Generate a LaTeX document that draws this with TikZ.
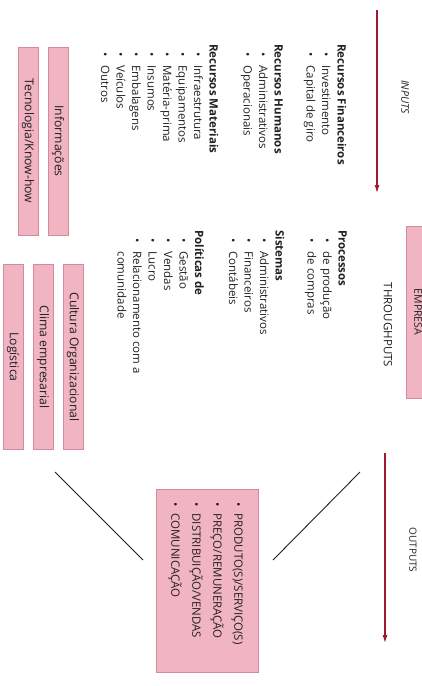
\documentclass[tikz,border=0pt]{standalone}
\usepackage{fontspec}
\setmainfont{Open Sans}
\usetikzlibrary{arrows.meta}
\definecolor{rosa}{RGB}{241,180,194}
\definecolor{rosaborda}{RGB}{216,136,156}
\definecolor{vinho}{RGB}{158,26,46}
\definecolor{texto}{RGB}{35,31,32}
\newcommand{\itm}[1]{\hspace*{8pt}\textbullet\hspace{9pt}#1}
\newcommand{\cont}[1]{\hspace*{8pt}\phantom{\textbullet}\hspace{9pt}#1}

\begin{document}
\begin{tikzpicture}[x=1pt,y=-1pt,
  lista/.style={rotate=-90,anchor=north west,inner sep=0pt,align=left,text=texto,font=\fontsize{11.5}{15.5}\selectfont},
  faixa/.style={rotate=-90,fill=rosa,draw=rosaborda,line width=0.3pt,minimum height=20pt,inner sep=0pt,text=texto,font=\fontsize{12.2}{13}\selectfont},
  fluxo/.style={draw=vinho,line width=1.1pt,-{Latex[length=8pt,width=5pt]}},
  rotulo/.style={rotate=-90,inner sep=0pt,text=texto,font=\fontsize{10.5}{12}\selectfont\itshape}]
\useasboundingbox (0,0) rectangle (422,686);

% inputs
\coordinate (in-a) at (377,10);
\coordinate (in-b) at (377,193);
\draw[fluxo] (in-a) -- (in-b);
\node[rotulo] (inputs) at (405,97) {INPUTS};
\node[lista] (recursos) at (346.5,44) {\textbf{Recursos Financeiros}\\ \itm{Investimento}\\ \itm{Capital de giro}\\[16.5pt]
  \textbf{Recursos Humanos}\\ \itm{Administrativos}\\ \itm{Operacionais}\\[18.5pt]
  \textbf{Recursos Materiais}\\ \itm{Infraestrutura}\\ \itm{Equipamentos}\\ \itm{Matéria-prima}\\ \itm{Insumos}\\ \itm{Embalagens}\\ \itm{Veículos}\\ \itm{Outros}};
\node[faixa,minimum width=188pt] (informacoes) at (58,141) {Informações};
\node[faixa,minimum width=188pt] (tecnologia) at (28,141) {Tecnologia/Know-how};

% throughputs
\node[faixa,minimum width=172pt,minimum height=24pt,font=\fontsize{10.5}{12}\selectfont] (empresa) at (418,312) {EMPRESA};
\node[rotulo,font=\fontsize{11.5}{13}\selectfont] (throughputs) at (388,325) {THROUGHPUTS};
\node[lista] (processos) at (347,230) {\textbf{Processos}\\ \itm{de produção}\\ \itm{de compras}\\[16.5pt]
  \textbf{Sistemas}\\ \itm{Administrativos}\\ \itm{Financeiros}\\ \itm{Contábeis}\\[18.5pt]
  \textbf{Políticas de}\\ \itm{Gestão}\\ \itm{Vendas}\\ \itm{Lucro}\\ \itm{Relacionamento com a}\\ \cont{comunidade}};
\node[faixa,minimum width=185pt] (cultura) at (73,357) {Cultura Organizacional};
\node[faixa,minimum width=185pt] (clima) at (43,357) {Clima empresarial};
\node[faixa,minimum width=185pt] (logistica) at (13,357) {Logística};

% outputs
\coordinate (out-a) at (385,453);
\coordinate (out-b) at (385,643);
\draw[fluxo] (out-a) -- (out-b);
\node[rotulo,font=\fontsize{10}{12}\selectfont] (outputs) at (413,550) {OUTPUTS};
\node[faixa,minimum width=183pt,minimum height=102pt] (saidas) at (207,580.5) {};
\node[lista,font=\fontsize{11.5}{21}\selectfont] (produtos) at (243,502) {\textbullet\hspace{7pt}PRODUTO(S)/SERVIÇO(S)\\ \textbullet\hspace{7pt}PREÇO/REMUNERAÇÃO\\ \textbullet\hspace{7pt}DISTRIBUIÇÃO/VENDAS\\ \textbullet\hspace{7pt}COMUNICAÇÃO};
\coordinate (ligA) at (55,472);
\coordinate (ligB) at (143,560);
\coordinate (ligC) at (360,472);
\coordinate (ligD) at (273,560);
\draw[line width=0.9pt,texto] (ligA) -- (ligB);
\draw[line width=0.9pt,texto] (ligC) -- (ligD);

\end{tikzpicture}
\end{document}
